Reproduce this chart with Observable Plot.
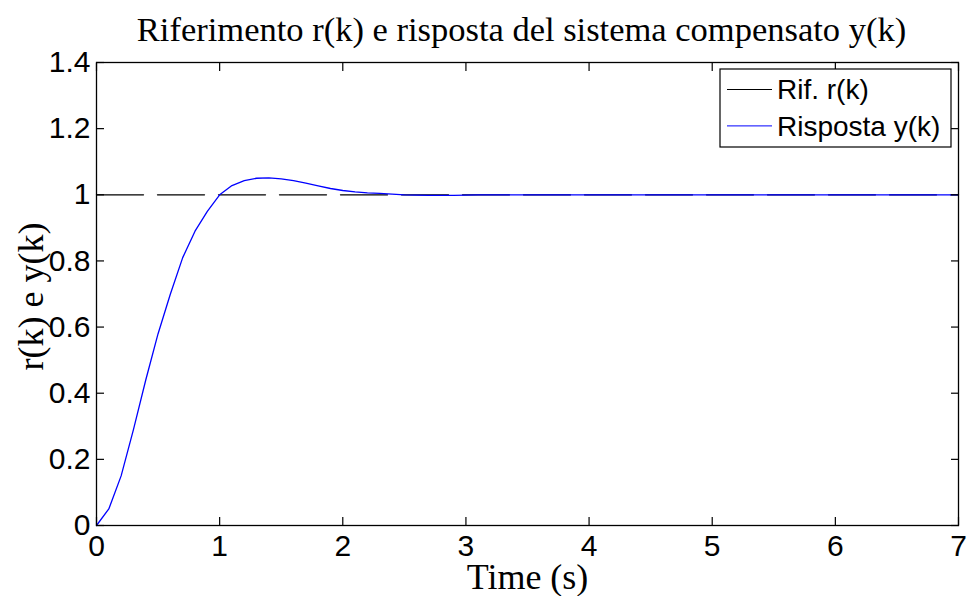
<!DOCTYPE html>
<html>
<head>
<meta charset="utf-8">
<script src="https://cdn.jsdelivr.net/npm/d3@7"></script>
<script src="https://cdn.jsdelivr.net/npm/@observablehq/plot@0.6"></script>
<style>
  html, body { margin: 0; padding: 0; background: #fff; }
  svg { display: block; }
</style>
</head>
<body>
<div id="chart"></div>
<script>
// ---- data ----
const titleText = "Riferimento r(k) e risposta del sistema compensato y(k)";
const xLabel = "Time (s)";
const yLabel = "r(k) e y(k)";

const times = [0, 0.1, 0.2, 0.3, 0.4, 0.5, 0.6, 0.7, 0.8, 0.9, 1.0,
               1.1, 1.2, 1.3, 1.4, 1.5, 1.6, 1.7, 1.8, 1.9, 2.0,
               2.1, 2.2, 2.3, 2.4, 2.5, 2.6, 2.7, 2.8, 2.9, 3.0, 3.1, 3.2, 7.0];
const response = [0, 0.05, 0.15, 0.29, 0.44, 0.58, 0.70, 0.81, 0.89, 0.95, 1.0,
                  1.028, 1.043, 1.050, 1.051, 1.048, 1.043, 1.035, 1.027, 1.019, 1.013,
                  1.009, 1.006, 1.004, 1.002, 1.000, 0.999, 0.998, 0.998, 0.998, 0.999, 1.0, 1.0, 1.0];

const refTimes = [0, 7];
const refValues = [1, 1];

const xTicks = [0, 1, 2, 3, 4, 5, 6, 7];
const yTicks = [0, 0.2, 0.4, 0.6, 0.8, 1, 1.2, 1.4];
const yTickLabels = ["0", "0.2", "0.4", "0.6", "0.8", "1", "1.2", "1.4"];

const legendLabels = ["Rif. r(k)", "Risposta y(k)"];
const legendColors = ["#000000", "#0000ff"];

// ---- tables built from the arrays ----
const respData = times.map((t, i) => ({t, v: response[i]}));
const refData = refTimes.map((t, i) => ({t, v: refValues[i]}));

const SANS = "Liberation Sans, Arial, sans-serif";
const SERIF = "Liberation Serif, Times New Roman, serif";

function legendMark(index, scales, values, dims) {
  const right = dims.width - dims.marginRight;
  const top = dims.marginTop;
  const bw = 231, bh = 78;
  const x0 = right - 7 - bw, y0 = top + 7;
  const g = d3.create("svg:g");
  g.append("rect").attr("x", x0).attr("y", y0).attr("width", bw).attr("height", bh)
    .attr("fill", "white").attr("stroke", "black").attr("stroke-width", 1.2);
  legendLabels.forEach((lab, i) => {
    const yy = y0 + 20.5 + i * 36.4;
    g.append("line").attr("x1", x0 + 7).attr("x2", x0 + 52).attr("y1", yy).attr("y2", yy)
      .attr("stroke", legendColors[i]).attr("stroke-width", 1);
    g.append("text").attr("x", x0 + 57).attr("y", yy).attr("dy", "0.35em")
      .attr("text-anchor", "start")
      .attr("font-family", SANS).attr("font-size", 28).attr("fill", "black").text(lab);
  });
  return g.node();
}

function yLabelMark(index, scales, values, dims) {
  const cx = dims.marginLeft - 65;
  const cy = (dims.marginTop + dims.height - dims.marginBottom) / 2 + 3;
  const g = d3.create("svg:g");
  g.append("text")
    .attr("transform", `translate(${cx},${cy}) rotate(-90)`)
    .attr("text-anchor", "middle")
    .attr("dy", "0.32em")
    .attr("font-family", SERIF).attr("font-size", 36).attr("fill", "black")
    .text(yLabel);
  return g.node();
}

const chart = Plot.plot({
  width: 967,
  height: 596,
  marginLeft: 96,
  marginRight: 9,
  marginTop: 62,
  marginBottom: 71,
  style: {fontFamily: SANS, background: "white", color: "black"},
  x: {domain: [0, 7]},
  y: {domain: [0, 1.4]},
  marks: [
    Plot.line(refData, {x: "t", y: "v", stroke: "black", strokeWidth: 1.3, strokeDasharray: "47,14"}),
    Plot.line(respData, {x: "t", y: "v", stroke: "#0000ff", strokeWidth: 1.3}),
    Plot.frame({stroke: "black", strokeWidth: 1.3}),
    // ticks inward on all four sides
    Plot.axisX({anchor: "bottom", ticks: xTicks, tickSize: -8, tickFormat: () => "", label: null, strokeWidth: 1.2}),
    Plot.axisX({anchor: "top", ticks: xTicks, tickSize: -8, tickFormat: () => "", label: null, strokeWidth: 1.2}),
    Plot.axisY({anchor: "left", ticks: yTicks, tickSize: -8, tickFormat: () => "", label: null, strokeWidth: 1.2}),
    Plot.axisY({anchor: "right", ticks: yTicks, tickSize: -8, tickFormat: () => "", label: null, strokeWidth: 1.2}),
    // tick labels
    Plot.axisX({anchor: "bottom", ticks: xTicks, tickSize: 0, tickPadding: 9, label: null,
                tickFormat: d => String(d), fontSize: 30, fontFamily: SANS}),
    Plot.axisY({anchor: "left", ticks: yTicks, tickSize: 0, tickPadding: 6, label: null,
                tickFormat: d => yTickLabels[yTicks.indexOf(d)], fontSize: 30, fontFamily: SANS}),
    // title and axis titles
    Plot.text([titleText], {frameAnchor: "top", dx: -6, dy: -33, fontFamily: SERIF, fontSize: 34.5, fill: "black", lineAnchor: "middle"}),
    Plot.text([xLabel], {frameAnchor: "bottom", dy: 52, fontFamily: SERIF, fontSize: 36, fill: "black", lineAnchor: "middle"}),
    yLabelMark,
    legendMark
  ]
});

document.getElementById("chart").appendChild(chart);
</script>
</body>
</html>
